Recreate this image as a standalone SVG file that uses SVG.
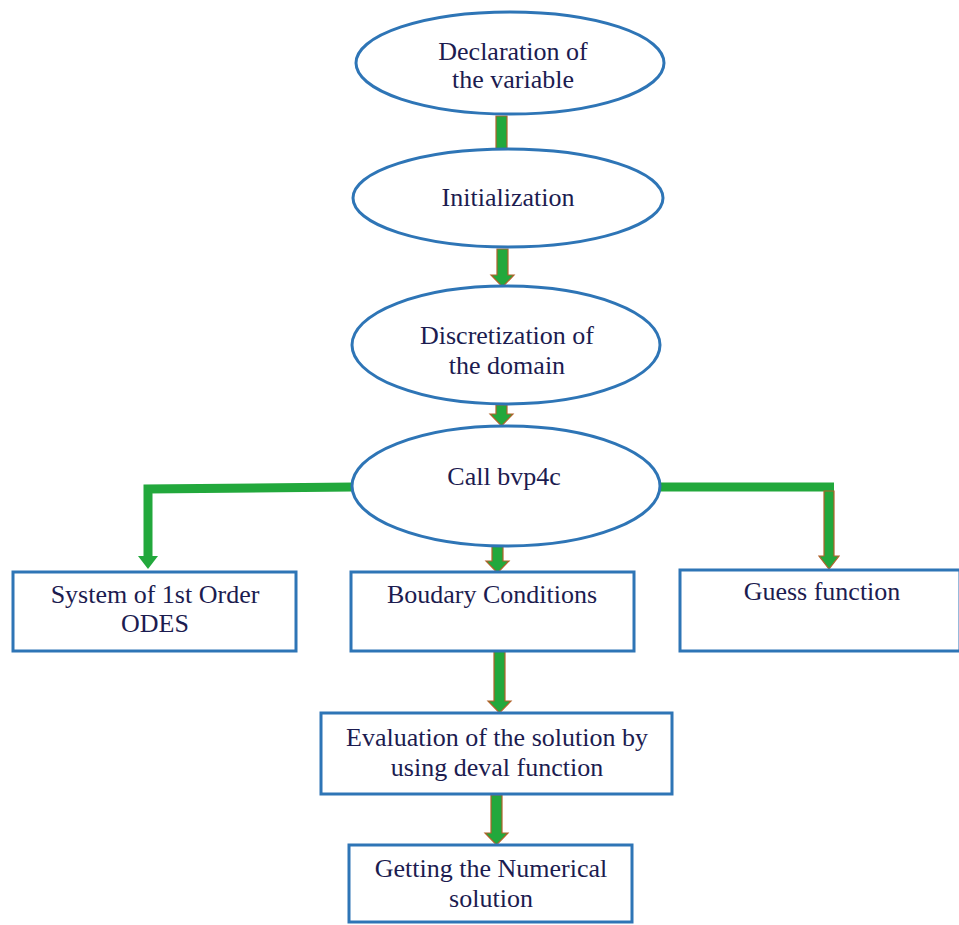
<svg xmlns="http://www.w3.org/2000/svg" width="959" height="925" viewBox="0 0 959 925">
<style>
.node ellipse,.node rect{fill:#fff;stroke:#2e75b6;stroke-width:3}
.node text{font-family:'Liberation Serif','Times New Roman',serif;font-size:26px;fill:#1c1c50;text-anchor:middle}
.arr{fill:#22a83c;stroke:#b0622a;stroke-width:1.2;stroke-linejoin:miter}
.line{fill:none;stroke:#22a83c;stroke-width:9;stroke-linejoin:miter}
.head{fill:#22a83c}
</style>
<rect width="959" height="925" fill="#fff"/>
<g id="connectors">
<path class="arr" d="M496,116 H507 V150 H513 L501.5,162 L490,150 H496 Z"/>
<path class="arr" d="M497,249 H508 V275 H514 L502.5,287 L491,275 H497 Z"/>
<path class="arr" d="M496,405 H507 V414 H513 L501.5,426 L490,414 H496 Z"/>
<path class="arr" d="M492,546 H503 V561 H509 L497.5,573 L486,561 H492 Z"/>
<path class="arr" d="M494,651 H505 V701 H511 L499.5,713 L488,701 H494 Z"/>
<path class="arr" d="M491,795 H502 V833 H508 L496.5,845 L485,833 H491 Z"/>
<polyline class="line" points="353,487 148,489 148,557"/>
<path class="head" d="M138,556 H158 L148,569 Z"/>
<polyline class="line" points="659,487 834,487"/>
<path class="arr" d="M824,491 H834 V556 H839 L829,569 L819,556 H824 Z"/>
</g>
<g id="n1" class="node"><ellipse cx="510" cy="63" rx="154" ry="51"/><text x="513" y="60">Declaration of</text><text x="513" y="88">the variable</text></g>
<g id="n2" class="node"><ellipse cx="508" cy="198" rx="155" ry="49"/><text x="508" y="206">Initialization</text></g>
<g id="n3" class="node"><ellipse cx="506" cy="345" rx="154" ry="59"/><text x="507" y="344">Discretization of</text><text x="507" y="374">the domain</text></g>
<g id="n4" class="node"><ellipse cx="506" cy="486" rx="154" ry="60"/><text x="504" y="485">Call bvp4c</text></g>
<g id="n5" class="node"><rect x="13" y="572" width="283" height="79"/><text x="155" y="603">System of 1st Order</text><text x="155" y="632">ODES</text></g>
<g id="n6" class="node"><rect x="351" y="572" width="283" height="79"/><text x="492" y="603">Boudary Conditions</text></g>
<g id="n7" class="node"><rect x="680" y="570" width="280" height="81"/><text x="822" y="600">Guess function</text></g>
<g id="n8" class="node"><rect x="321" y="713" width="351" height="81"/><text x="497" y="746">Evaluation of the solution by</text><text x="497" y="776">using deval function</text></g>
<g id="n9" class="node"><rect x="349" y="845" width="283" height="77"/><text x="491" y="877">Getting the Numerical</text><text x="491" y="907">solution</text></g>
</svg>
